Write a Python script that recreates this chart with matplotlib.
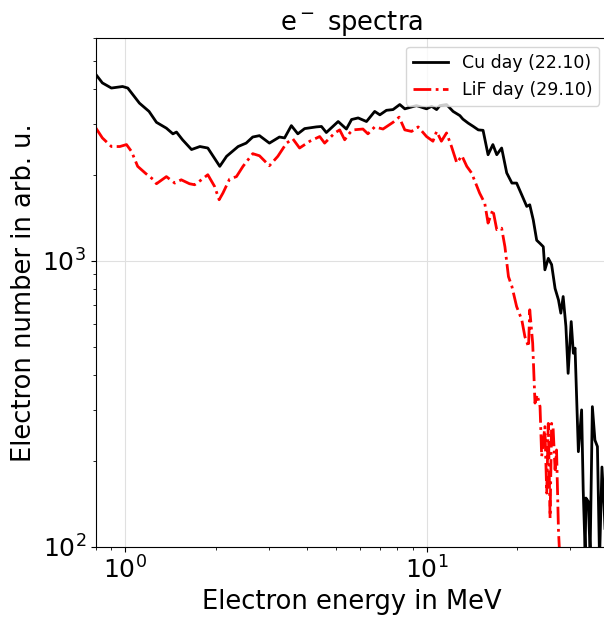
import numpy as np
from matplotlib import pyplot as plt

# Cu day (22.10) - energy in MeV, counts in arb. u.
cu_energy = [0.80, 0.84, 0.90, 0.98, 1.02, 1.115, 1.20, 1.27, 1.37, 1.44, 1.48, 1.55,
             1.66, 1.77, 1.88, 2.06, 2.17, 2.37, 2.52, 2.65, 2.79, 3.01, 3.25, 3.38,
             3.56, 3.74, 3.94, 4.31, 4.48, 4.65, 5.09, 5.42, 5.64, 5.93, 6.32, 6.73,
             7.0, 7.36, 7.74, 8.15, 8.47, 9.26, 10.0, 10.4, 10.8, 11.07, 11.65, 12.25,
             12.9, 13.2, 13.75, 14.3, 14.85, 15.4, 16.0, 16.6, 17.1, 17.75, 18.45, 19.2,
             19.9, 20.7, 21.5, 22.0, 22.6, 23.2, 23.8, 24.4, 24.7, 25.35, 26.0, 26.7,
             27.4, 27.9, 28.4, 29.0, 29.5, 30.2, 30.7, 31.1, 31.9, 32.7, 33.1, 33.6,
             33.8, 34.4, 34.9, 35.5, 36.2, 36.9, 37.5, 38.2, 38.8, 39.5]
cu_counts = [4480, 4190, 4020, 4070, 4020, 3560, 3330, 3050, 2910, 2780, 2820, 2650,
             2450, 2510, 2480, 2140, 2320, 2510, 2580, 2710, 2740, 2580, 2710, 2690,
             2970, 2780, 2900, 2940, 2950, 2810, 3070, 2890, 3120, 3160, 3070, 3330,
             3240, 3360, 3380, 3520, 3400, 3490, 3400, 3470, 3380, 3490, 3520, 3330,
             3220, 3130, 3030, 2950, 2870, 2860, 2350, 2550, 2350, 2480, 2030, 1870,
             1870, 1700, 1550, 1570, 1390, 1180, 1150, 1120, 930, 1020, 970, 800,
             730, 656, 750, 590, 404, 613, 475, 495, 215, 301, 158, 95,
             148, 144, 95, 309, 236, 224, 90, 190, 140, 90]

# LiF day (29.10)
lif_energy = [0.80, 0.84, 0.90, 0.96, 1.01, 1.05, 1.10, 1.17, 1.235, 1.27, 1.37, 1.46,
              1.535, 1.635, 1.70, 1.79, 1.88, 1.98, 2.05, 2.11, 2.22, 2.34, 2.46, 2.65,
              2.79, 3.01, 3.21, 3.43, 3.60, 3.79, 4.10, 4.42, 4.59, 4.96, 5.15, 5.35,
              5.56, 5.70, 6.15, 6.39, 6.73, 7.17, 7.74, 8.11, 8.47, 8.92, 9.38, 10.0,
              10.5, 10.8, 11.2, 11.65, 12.1, 12.6, 13.1, 13.6, 14.1, 14.7, 15.0, 15.6,
              16.0, 16.6, 17.1, 17.75, 18.2, 18.7, 19.2, 19.9, 20.7, 21.2, 21.8, 22.0,
              22.5, 22.9, 23.3, 23.8, 24.1, 24.7, 25.05, 25.35, 25.7, 26.0, 26.3, 26.7,
              27.0, 27.4, 27.7]
lif_counts = [2910, 2690, 2510, 2510, 2550, 2410, 2140, 2020, 1930, 1860, 1970, 1870,
              1920, 1860, 1845, 1920, 2000, 1820, 1635, 1725, 1930, 1970, 2140, 2370,
              2330, 2150, 2320, 2580, 2670, 2480, 2620, 2720, 2580, 2800, 2870, 2650,
              2800, 2870, 2890, 2780, 2940, 2890, 3050, 3180, 2870, 2835, 2940, 2720,
              2620, 2835, 2620, 2800, 2510, 2200, 2330, 2140, 2030, 1820, 1725, 1590,
              1355, 1510, 1285, 1300, 1120, 880, 813, 692, 622, 543, 500, 674,
              515, 318, 340, 309, 207, 263, 154, 270, 126, 270, 260, 186,
              218, 114, 90]

fig = plt.figure(figsize=(6.04, 6.17), dpi=100)
ax = fig.add_axes([0.1589, 0.1139, 0.8477, 0.824])

ax.plot(cu_energy, cu_counts, color='black', lw=2, label='Cu day (22.10)')
ax.plot(lif_energy, lif_counts, color='red', lw=2, ls='-.', label='LiF day (29.10)')

ax.set_xscale('log')
ax.set_yscale('log')
ax.set_xlim(0.8, 40)
ax.set_ylim(100, 6000)
ax.grid(True, which='major', color='0.88', lw=0.8)
ax.tick_params(labelsize=18)

ax.set_xlabel('Electron energy in MeV', fontsize=18.5)
ax.set_ylabel('Electron number in arb. u.', fontsize=18.5)
ax.set_title('e$^-$ spectra', fontsize=18.5)
ax.legend(loc='upper right', fontsize=12.5)

fig.savefig('out.png', dpi=100)
